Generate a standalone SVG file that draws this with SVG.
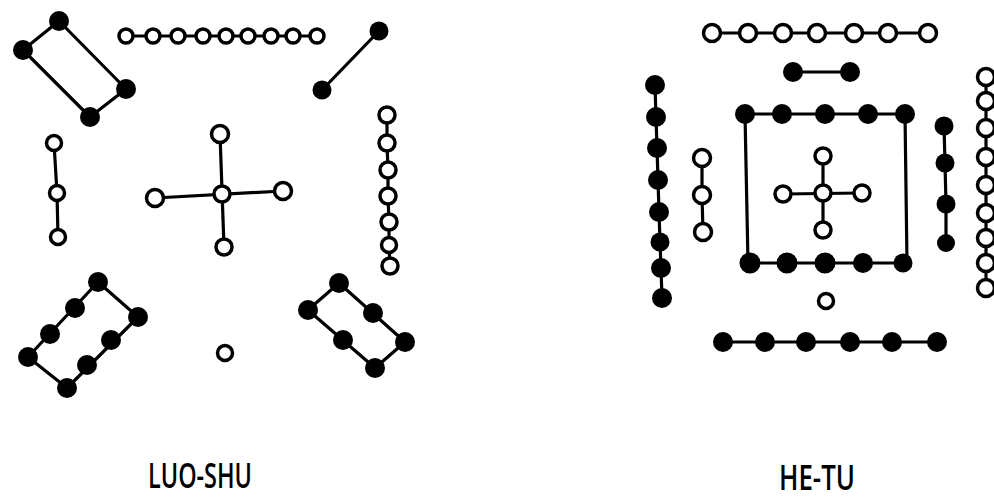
<svg xmlns="http://www.w3.org/2000/svg" width="994" height="499" viewBox="0 0 994 499">
<style>
.b{fill:#000}
.w{fill:#fff;stroke:#000;stroke-width:3.5}
.ln{fill:none;stroke:#000;stroke-width:3.2;stroke-linejoin:round}
.t{font-family:"Open Sans","Liberation Sans",sans-serif;font-weight:600;font-size:34px;fill:#000;text-anchor:middle}
</style>
<rect width="994" height="499" fill="#fff"/>
<g id="connectors">
<polygon class="ln" points="59,21 126,89 90,117 23,50"/>
<line class="ln" x1="126" y1="36" x2="317" y2="36"/>
<line class="ln" x1="379" y1="31" x2="322" y2="90"/>
<polyline class="ln" points="54,143 57,193 58,237"/>
<line class="ln" x1="220" y1="134" x2="224" y2="247"/>
<line class="ln" x1="155" y1="198" x2="283" y2="191"/>
<polyline class="ln" points="387,115 387,143 388,170 388,196 389,222 389,245 390,266"/>
<polygon class="ln" points="98,282 138,317 67,388 28,357"/>
<polygon class="ln" points="339,283 405,342 375,368 308,310"/>
<line class="ln" x1="712" y1="33" x2="928" y2="33"/>
<line class="ln" x1="793" y1="72" x2="850" y2="72"/>
<polygon class="ln" points="745,114 905,114 907,263 748,263"/>
<line class="ln" x1="823" y1="156" x2="823" y2="230"/>
<line class="ln" x1="783" y1="194" x2="862" y2="193"/>
<polyline class="ln" points="655,85 656,117 657,148 658,180 659,212 660,242 661,268 662,298"/>
<polyline class="ln" points="702,158 702,195 703,232"/>
<polyline class="ln" points="944,126 945,163 946,204 946,243"/>
<line class="ln" x1="986" y1="77" x2="986" y2="288"/>
<line class="ln" x1="723" y1="342" x2="937" y2="342"/>
</g>
<g id="luo-shu-4">
<circle class="b" cx="59" cy="21" r="10"/><circle class="b" cx="126" cy="89" r="10"/><circle class="b" cx="90" cy="117" r="10"/><circle class="b" cx="23" cy="50" r="10"/>
</g>
<g id="luo-shu-9">
<circle class="w" cx="126" cy="36" r="7"/><circle class="w" cx="153" cy="36" r="7"/><circle class="w" cx="178" cy="36" r="7"/><circle class="w" cx="203" cy="36" r="7"/><circle class="w" cx="226" cy="36" r="7"/><circle class="w" cx="248" cy="36" r="7"/><circle class="w" cx="271" cy="36" r="7"/><circle class="w" cx="293" cy="36" r="7"/><circle class="w" cx="317" cy="36" r="7"/>
</g>
<g id="luo-shu-2">
<circle class="b" cx="379" cy="31" r="9.5"/><circle class="b" cx="322" cy="90" r="9.5"/>
</g>
<g id="luo-shu-3">
<circle class="w" cx="54" cy="143" r="7.5"/><circle class="w" cx="57" cy="193" r="7.5"/><circle class="w" cx="58" cy="237" r="7.5"/>
</g>
<g id="luo-shu-5">
<circle class="w" cx="222" cy="194" r="8"/><circle class="w" cx="220" cy="134" r="8.5"/><circle class="w" cx="155" cy="198" r="8.5"/><circle class="w" cx="283" cy="191" r="8.5"/><circle class="w" cx="224" cy="247" r="8"/>
</g>
<g id="luo-shu-7">
<circle class="w" cx="387" cy="115" r="8"/><circle class="w" cx="387" cy="143" r="8"/><circle class="w" cx="388" cy="170" r="8"/><circle class="w" cx="388" cy="196" r="8"/><circle class="w" cx="389" cy="222" r="8"/><circle class="w" cx="389" cy="245" r="7.5"/><circle class="w" cx="390" cy="266" r="8"/>
</g>
<g id="luo-shu-8">
<circle class="b" cx="98" cy="282" r="10"/><circle class="b" cx="75" cy="308" r="10"/><circle class="b" cx="50" cy="334" r="10"/><circle class="b" cx="28" cy="357" r="10"/><circle class="b" cx="67" cy="388" r="10"/><circle class="b" cx="87" cy="365" r="10"/><circle class="b" cx="111" cy="340" r="10"/><circle class="b" cx="138" cy="317" r="10"/>
</g>
<g id="luo-shu-1">
<circle class="w" cx="225" cy="353" r="7.5"/>
</g>
<g id="luo-shu-6">
<circle class="b" cx="339" cy="283" r="10"/><circle class="b" cx="373" cy="313" r="10"/><circle class="b" cx="405" cy="342" r="10"/><circle class="b" cx="375" cy="368" r="10"/><circle class="b" cx="343" cy="340" r="10"/><circle class="b" cx="308" cy="310" r="10"/>
</g>
<g id="he-tu-7">
<circle class="w" cx="712" cy="33" r="8.5"/><circle class="w" cx="748" cy="33" r="8.5"/><circle class="w" cx="783" cy="33" r="8.5"/><circle class="w" cx="817" cy="33" r="8.5"/><circle class="w" cx="854" cy="33" r="8.5"/><circle class="w" cx="888" cy="33" r="8.5"/><circle class="w" cx="928" cy="33" r="8.5"/>
</g>
<g id="he-tu-2">
<circle class="b" cx="793" cy="72" r="10"/><circle class="b" cx="850" cy="72" r="10"/>
</g>
<g id="he-tu-10">
<circle class="b" cx="745" cy="114" r="10"/><circle class="b" cx="782" cy="114" r="10"/><circle class="b" cx="825" cy="114" r="10"/><circle class="b" cx="868" cy="114" r="10"/><circle class="b" cx="905" cy="114" r="10"/>
<circle class="b" cx="750" cy="263" r="10.5"/><circle class="b" cx="787" cy="263" r="10.5"/><circle class="b" cx="825" cy="263" r="10.5"/><circle class="b" cx="863" cy="263" r="10"/><circle class="b" cx="903" cy="263" r="9.5"/>
</g>
<g id="he-tu-5">
<circle class="w" cx="823" cy="193" r="8"/><circle class="w" cx="823" cy="156" r="8"/><circle class="w" cx="783" cy="194" r="8"/><circle class="w" cx="862" cy="193" r="8"/><circle class="w" cx="823" cy="230" r="8"/>
</g>
<g id="he-tu-1">
<circle class="w" cx="826" cy="301" r="7.5"/>
</g>
<g id="he-tu-8">
<circle class="b" cx="655" cy="85" r="10"/><circle class="b" cx="656" cy="117" r="10"/><circle class="b" cx="657" cy="148" r="10"/><circle class="b" cx="658" cy="180" r="10"/><circle class="b" cx="659" cy="212" r="10"/><circle class="b" cx="660" cy="242" r="9.5"/><circle class="b" cx="661" cy="268" r="10"/><circle class="b" cx="662" cy="298" r="10"/>
</g>
<g id="he-tu-3">
<circle class="w" cx="702" cy="158" r="8.5"/><circle class="w" cx="702" cy="195" r="8.5"/><circle class="w" cx="703" cy="232" r="8.5"/>
</g>
<g id="he-tu-4">
<circle class="b" cx="944" cy="126" r="9.5"/><circle class="b" cx="945" cy="163" r="9.5"/><circle class="b" cx="946" cy="204" r="9.5"/><circle class="b" cx="946" cy="243" r="9"/>
</g>
<g id="he-tu-9">
<circle class="w" cx="986" cy="77" r="8.5"/><circle class="w" cx="986" cy="101" r="8.5"/><circle class="w" cx="986" cy="128" r="8.5"/><circle class="w" cx="986" cy="157" r="8.5"/><circle class="w" cx="986" cy="185" r="8.5"/><circle class="w" cx="986" cy="213" r="8.5"/><circle class="w" cx="986" cy="238" r="8.5"/><circle class="w" cx="986" cy="263" r="8.5"/><circle class="w" cx="986" cy="288" r="8.5"/>
</g>
<g id="he-tu-6">
<circle class="b" cx="723" cy="342" r="10"/><circle class="b" cx="765" cy="342" r="10"/><circle class="b" cx="806" cy="342" r="10"/><circle class="b" cx="850" cy="342" r="10"/><circle class="b" cx="892" cy="342" r="10"/><circle class="b" cx="937" cy="342" r="10"/>
</g>
<g id="labels">
<text class="t" x="200" y="488" textLength="104" lengthAdjust="spacingAndGlyphs">LUO-SHU</text>
<text class="t" x="817" y="490" textLength="76" lengthAdjust="spacingAndGlyphs">HE-TU</text>
</g>
</svg>
